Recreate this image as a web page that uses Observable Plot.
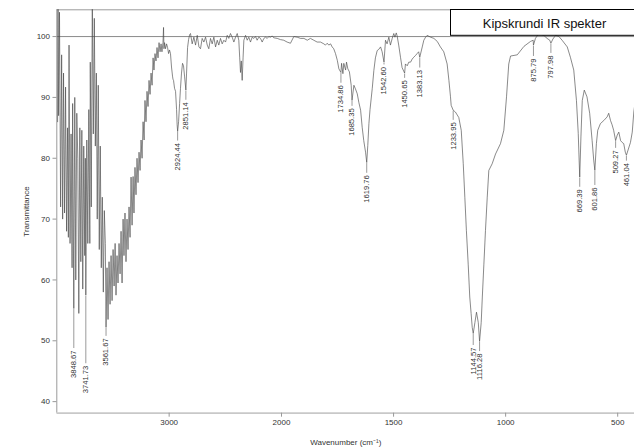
<!DOCTYPE html>
<html><head><meta charset="utf-8">
<script src="https://cdn.jsdelivr.net/npm/d3@7"></script>
<script src="https://cdn.jsdelivr.net/npm/@observablehq/plot@0.6"></script>
<style>
html,body{margin:0;padding:0;background:#fff;}
svg{overflow:hidden;}
</style></head><body>
<div id="chart"></div>
<script>
const title = "Kipskrundi IR spekter";
const xLabel = "Wavenumber (cm⁻¹)";
const yLabel = "Transmittance";
const xTicks = [3000, 2000, 1500, 1000, 500];
const yTicks = [40, 50, 60, 70, 80, 90, 100];
const xBreaks = [4000, 2000, 400];
const yExtent = [38.1, 104.4];

const spectrum = [
[3993,86],[3989,106],[3984,87],[3976,104],[3966,72],[3957,97],[3948,70],[3940,94],[3931,71],[3922,91.7],[3913,68],[3904,85],[3897,67],[3891,98.6],[3882,66],[3873,84],[3864,62],[3859,89],[3848.67,55.3],[3840,90],[3831,60],[3822,87.4],[3813,80],[3804,54.5],[3795,85],[3786,63],[3777,84.6],[3769,58.5],[3760,82],[3751,64],[3746,80],[3741.73,57.5],[3733,83],[3724,66],[3715,88],[3706,66],[3702,95.8],[3693,72],[3684,107],[3675,84],[3666,103],[3657,82],[3648,94],[3640,70],[3631,92],[3622,65],[3613,82],[3604,62],[3595,73.6],[3586,58],[3577,71.4],[3568,66],[3561.67,52.2],[3553,62],[3544,53.5],[3535,63],[3526,56],[3517,64],[3508,56.6],[3499,65],[3490,59],[3481,66],[3473,57.5],[3464,64],[3455,59.5],[3446,66],[3437,61],[3428,68],[3419,59.5],[3410,70],[3402,64],[3393,71],[3384,63],[3375,70],[3366,65],[3357,72],[3348,67],[3339,76.9],[3330,69],[3321,77],[3313,71],[3304,78.5],[3295,74],[3286,80],[3277,76],[3268,81],[3259,78],[3250,83],[3241,80],[3232,86],[3223,83],[3215,89.5],[3206,86],[3197,91],[3188,88.5],[3179,92.8],[3170,90.5],[3161,94],[3152,92],[3143,96.5],[3135,94.5],[3126,97.2],[3117,96],[3108,98.2],[3099,96.5],[3090,99],[3081,97.5],[3072,98.8],[3064,97.5],[3055,99],[3050,101.5],[3046,98],[3041,99],[3032,98],[3023,98.8],[3014,98.2],[3005,97.2],[2997,97.8],[2988,97.2],[2979,95],[2970,93.5],[2966,93],[2961,92.8],[2952,91.5],[2943,91],[2934,88],[2929,85.5],[2924.44,84.4],[2916,86],[2907,89],[2899,91.5],[2890,94],[2881,95.6],[2872,95.2],[2863,93.5],[2851.14,91.2],[2845,94],[2836,98.2],[2827,99.5],[2818,100.3],[2810,100.5],[2795,98.8],[2780,99.9],[2765,98.6],[2750,100.2],[2735,98.3],[2721,98.0],[2706,99.7],[2691,99.1],[2676,99.9],[2661,98.6],[2647,98.0],[2632,99.7],[2617,98.8],[2602,99.9],[2587,98.3],[2572,99.4],[2558,98.6],[2543,99.7],[2528,98.8],[2513,99.4],[2498,99.1],[2483,100.2],[2469,99.7],[2454,100.5],[2439,99.9],[2424,99.1],[2409,99.9],[2394,100.5],[2380,99.4],[2372,96.5],[2365,94.1],[2358,96],[2350,92.8],[2342,96.5],[2335,99.4],[2320,100.2],[2305,99.4],[2291,99.9],[2276,99.1],[2261,99.9],[2246,99.7],[2231,100.0],[2217,99.4],[2202,99.9],[2187,99.7],[2172,99.1],[2157,99.7],[2142,99.9],[2127,99.7],[2113,100.0],[2098,99.9],[2083,100.1],[2069,99.8],[2038,99.7],[2009,99.5],[1990,99.4],[1975,99.1],[1960,98.9],[1945,100.0],[1930,99.9],[1915,99.7],[1900,99.7],[1885,99.4],[1871,99.7],[1856,99.4],[1841,99.1],[1826,99.1],[1811,98.8],[1804,98.6],[1796,98.9],[1789,98.6],[1781,98.8],[1774,98.3],[1767,98.0],[1759,97.2],[1751,96.1],[1744,94.7],[1734.86,94.1],[1732,95.6],[1726,93.9],[1722,95.6],[1714,94.5],[1710,95.8],[1704,94.7],[1697,94.2],[1689,92.0],[1685.35,89.5],[1677,92.0],[1670,91.4],[1662,90.6],[1655,89.2],[1647,87.9],[1640,85.1],[1633,82.9],[1625,81.0],[1619.76,79.3],[1615,82.1],[1610,85.7],[1605,88],[1595,91.5],[1588,94.4],[1581,96.5],[1573,97.7],[1566,97.9],[1558,98.3],[1551,97.5],[1542.6,95.8],[1536,99.4],[1529,98.8],[1521,99.9],[1514,98.6],[1506,99.7],[1499,100.5],[1494,99.9],[1488,100.6],[1484,100.1],[1477,98.6],[1469,96.6],[1462,94.9],[1450.65,94.0],[1447,95.5],[1439,95.2],[1432,95.8],[1424,95.8],[1417,96.3],[1410,96.6],[1402,96.9],[1395,97.2],[1388,97.5],[1383.13,96.6],[1372,98.3],[1365,99.4],[1357,99.9],[1350,100.2],[1335,99.9],[1320,99.7],[1305,99.2],[1291,98.3],[1276,97.5],[1261,95.5],[1253,92.8],[1246,90.1],[1243,88.7],[1233.95,87.9],[1224,87.6],[1209,86.7],[1198,84.6],[1189,79.1],[1182,73.6],[1175,68.1],[1167,62.6],[1160,57.2],[1154,54.5],[1149,52.2],[1144.57,51.2],[1137,53.0],[1130,54.7],[1122,53.0],[1116.28,49.9],[1109,53.0],[1104,57.2],[1097,62.6],[1090,68.1],[1082,73.6],[1075,78.0],[1060,79.1],[1045,80.7],[1023,82.4],[1008,84.6],[996,90.1],[986,95.5],[978,96.8],[948,97.0],[918,98.4],[889,99.2],[877,99.4],[875.79,98.6],[867,99.7],[852,100.5],[830,100.2],[815,99.7],[803,99.4],[797.98,98.9],[789,99.6],[777,100.2],[762,100.0],[748,99.4],[725,98.3],[711,96.6],[696,94.5],[684,89.5],[676,84.1],[672,79.7],[669.39,76.9],[664,83.5],[658,89.5],[649,91.2],[637,90.1],[625,87.4],[614,82.9],[607,79.7],[601.86,78.0],[595,82.4],[589,84.6],[577,85.7],[562,86.2],[547,86.8],[540,87.4],[532,86.2],[525,85.5],[518,84.6],[509.27,82.9],[502,83.8],[495,84.3],[487,82.9],[480,82.6],[473,82.4],[466,81.0],[461.04,80.5],[455,81.2],[443,82.6],[435,84.3],[428,87.6],[416,91]
];

const peakWavenumbers = [3848.67, 3741.73, 3561.67, 2924.44, 2851.14, 1734.86, 1685.35, 1619.76, 1542.60, 1450.65, 1383.13, 1233.95, 1144.57, 1116.28, 875.79, 797.98, 669.39, 601.86, 509.27, 461.04];
const peakLabels = ["3848.67", "3741.73", "3561.67", "2924.44", "2851.14", "1734.86", "1685.35", "1619.76", "1542.60", "1450.65", "1383.13", "1233.95", "1144.57", "1116.28", "875.79", "797.98", "669.39", "601.86", "509.27", "461.04"];
const peakMinima = [55.3, 57.5, 52.2, 84.4, 91.2, 94.1, 89.5, 79.3, 95.8, 94.0, 96.6, 87.9, 51.2, 49.9, 98.6, 98.9, 76.9, 78.0, 82.9, 80.5];
const labelTops = [48.4, 45.9, 50.4, 82.5, 89.2, 92.0, 88.2, 77.2, 95.0, 92.8, 94.5, 85.9, 48.9, 47.9, 96.4, 96.9, 74.9, 75.2, 81.3, 79.2];

const data = spectrum.map(([wavenumber, transmittance]) => ({wavenumber, transmittance}));
const peaks = peakWavenumbers.map((wn, i) => ({wn, label: peakLabels[i], minT: peakMinima[i], labelT: labelTops[i]}));

const W = 634, H = 447;
const font = "'Liberation Sans', Arial, Helvetica, sans-serif";

const chart = Plot.plot({
  width: W, height: H,
  marginLeft: 56.5, marginRight: 0, marginTop: 9.3, marginBottom: 34.3,
  style: {fontFamily: font, background: "#fff", color: "#333"},
  x: {type: "linear", domain: xBreaks, range: [56.3, 281, 639.6]},
  y: {domain: yExtent},
  marks: [
    Plot.ruleY([100], {stroke: "#8a8a8a", strokeWidth: 1}),
    Plot.ruleY([yExtent[1]], {stroke: "#9a9a9a", strokeWidth: 1}),
    Plot.ruleX([xBreaks[0]], {stroke: "#9a9a9a", strokeWidth: 1}),
    Plot.line(data, {x: "wavenumber", y: "transmittance", stroke: "#4a4a4a", strokeWidth: 0.65, clip: true}),
    Plot.ruleX(peaks, {x: "wn", y1: "minT", y2: "labelT", insetTop: 1, insetBottom: 2, stroke: "#555", strokeWidth: 0.6}),
    Plot.text(peaks, {x: "wn", y: "labelT", text: "label", rotate: -90, textAnchor: "end", fontSize: 7.6, fill: "#333"}),
    Plot.ruleY([yExtent[0]], {stroke: "#c8c8c8", strokeWidth: 1.8}),
    Plot.axisX({ticks: xTicks, tickFormat: d3.format("d"), tickSize: 4, tickPadding: 2, fontSize: 8, stroke: "#999", fill: "#333", label: xLabel, labelAnchor: "center", labelOffset: 32, labelArrow: "none"}),
    Plot.axisY({ticks: yTicks, tickSize: 4, tickPadding: 3, fontSize: 8, stroke: "#999", fill: "#333", label: yLabel, labelAnchor: "center", labelOffset: 34, labelArrow: "none"})
  ]
});

// Title box (legend-like annotation) at the top right of the frame
const svg = d3.select(chart);
const box = svg.append("g");
box.append("rect")
  .attr("x", W - 183.5).attr("y", 9.5).attr("width", 200).attr("height", 25.8)
  .attr("fill", "#fff").attr("stroke", "#000").attr("stroke-width", 1);
box.append("text")
  .attr("x", W - 89.5).attr("y", 27.5).attr("text-anchor", "middle")
  .attr("font-family", font).attr("font-size", 13).attr("fill", "#111")
  .text(title);

document.getElementById("chart").appendChild(chart);
</script>
</body></html>
